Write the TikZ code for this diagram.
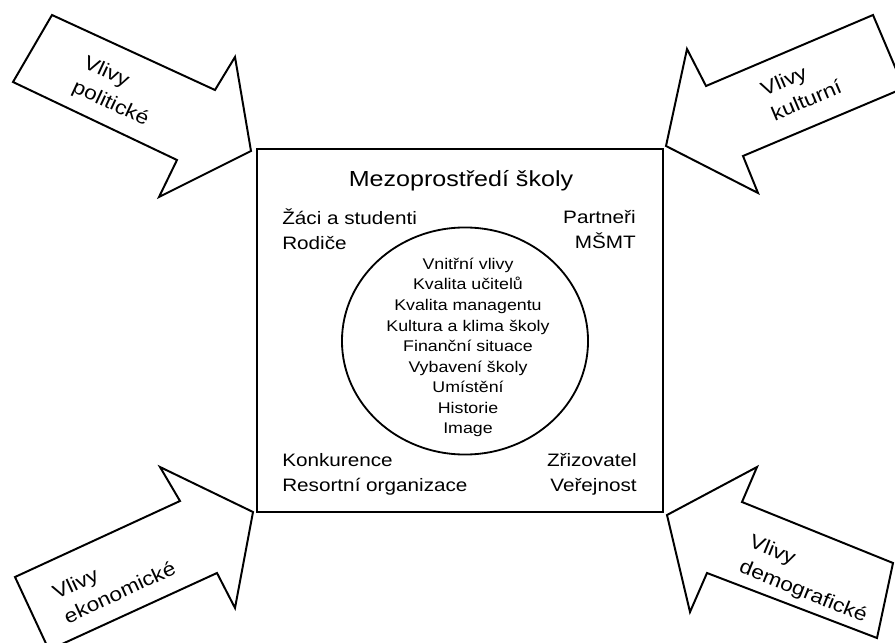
\documentclass[tikz,border=0pt]{standalone}
\usepackage{fontspec}
\setmainfont[FakeStretch=1.15]{Liberation Sans}
\usetikzlibrary{shapes.geometric}

\begin{document}
\begin{tikzpicture}[x=0.025cm,y=-0.025cm,
 blok/.style={draw,line width=1.4pt,fill=white,line join=miter},
 ramec/.style={draw,line width=1.6pt,minimum width=10.15cm,minimum height=9.075cm,inner sep=0pt},
 kruh/.style={draw,ellipse,line width=1.3pt,minimum width=6.15cm,minimum height=5.675cm,inner sep=0pt},
 vliv/.style={align=left,inner sep=0pt,font=\fontsize{14}{19}\selectfont},
 okoli/.style={inner sep=0pt,font=\fontsize{12.8}{17.5}\selectfont},
 uvnitr/.style={align=center,inner sep=0pt,font=\fontsize{11}{14.6}\selectfont}]
 \useasboundingbox (0,0) rectangle (895,643);
 \clip (0,0) rectangle (895,643);
 % school box and inner circle
 \node[ramec] (mezo) at (460,330.5) {};
 \node[kruh] (kruh) at (465,341) {};
 \node[inner sep=0pt,font=\fontsize{15.5}{18}\selectfont] (nadpis) at (461,181) {Mezoprostředí školy};
 \node[okoli,align=left,anchor=west] (zaci) at (282,229.5) {Žáci a studenti\\Rodiče};
 \node[okoli,align=right,anchor=east] (partneri) at (636,229.5) {Partneři\\MŠMT};
 \node[okoli,align=left,anchor=west] (konk) at (282,474.5) {Konkurence\\Resortní organizace};
 \node[okoli,align=right,anchor=east] (zriz) at (637,474.5) {Zřizovatel\\Veřejnost};
 \node[uvnitr] (vnitrni) at (468,347.5) {Vnitřní vlivy\\Kvalita učitelů\\Kvalita managentu\\Kultura a klima školy\\Finanční situace\\Vybavení školy\\Umístění\\Historie\\Image};
 % outer influences
 \draw[blok] (52,15) -- (215,90) -- (235,57) -- (251,151) -- (159,197) -- (177,160) -- (13,82) -- cycle;
 \draw[blok] (666,146) -- (687,49) -- (706,86) -- (873,15) -- (904,88) -- (743,156) -- (758,193) -- cycle;
 \draw[blok] (253,512) -- (160,467) -- (180,501) -- (15,577) -- (49,650) -- (217,573) -- (235,608) -- cycle;
 \draw[blok] (667,515) -- (757,467) -- (742,502) -- (893,563) -- (877,638) -- (707,573) -- (690,612) -- cycle;
 \node[vliv,rotate=-25] (polit) at (116,92) {Vlivy\\politické};
 \node[vliv,rotate=23] (kult) at (801,88) {Vlivy\\kulturní};
 \node[vliv,rotate=25] (ekon) at (114,580) {Vlivy\\ekonomické};
 \node[vliv,rotate=-22] (demo) at (808,580) {Vlivy\\demografické};
\end{tikzpicture}
\end{document}
